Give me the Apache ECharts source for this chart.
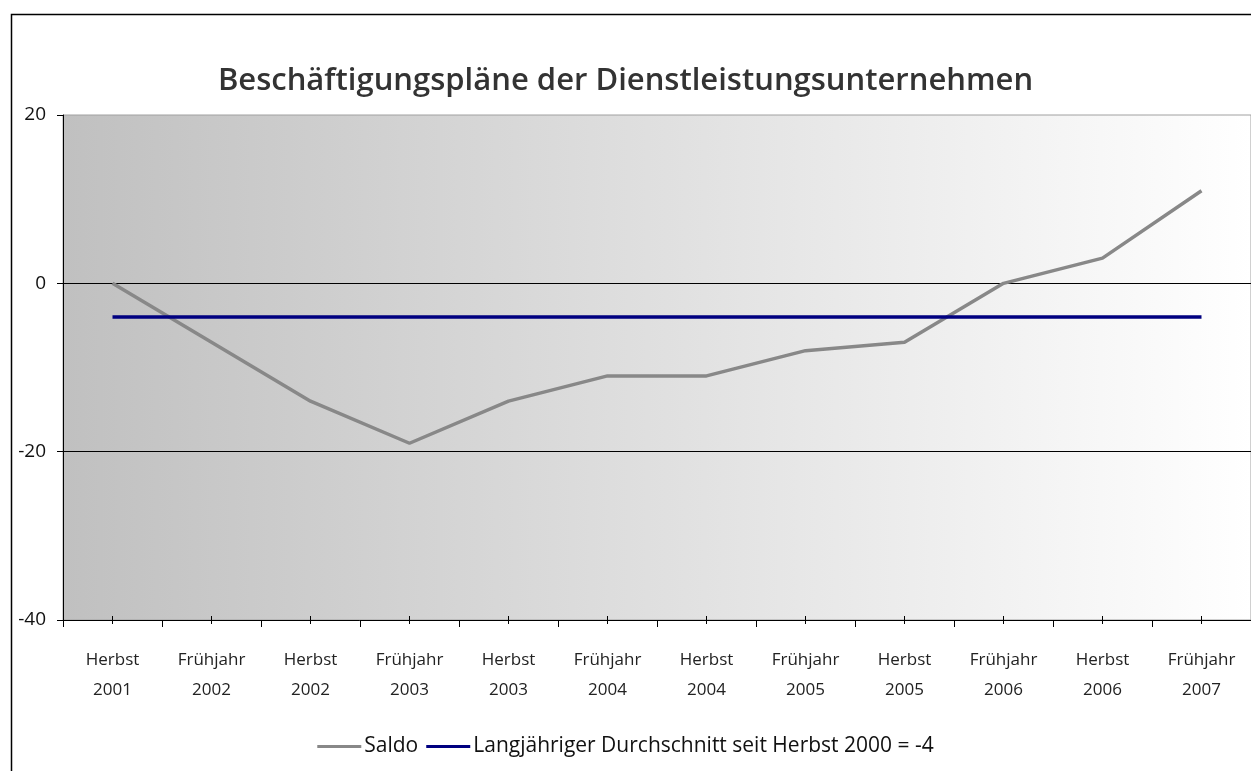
<!DOCTYPE html>
<html>
<head>
<meta charset="utf-8">
<title>Beschäftigungspläne der Dienstleistungsunternehmen</title>
<script src="https://cdn.jsdelivr.net/npm/echarts@6/dist/echarts.min.js"></script>
<style>
  html, body { margin: 0; padding: 0; background: #ffffff; }
  #chart { width: 1251px; height: 771px; }
</style>
</head>
<body>
<div id="chart"></div>
<script>
// Survey periods (season + year)
const categories = [
  'Herbst\n2001', 'Frühjahr\n2002', 'Herbst\n2002', 'Frühjahr\n2003',
  'Herbst\n2003', 'Frühjahr\n2004', 'Herbst\n2004', 'Frühjahr\n2005',
  'Herbst\n2005', 'Frühjahr\n2006', 'Herbst\n2006', 'Frühjahr\n2007'
];
// Balance of planned hiring vs. job cuts
const saldo = [0, -7, -14, -19, -14, -11, -11, -8, -7, 0, 3, 11];
// Long-run average since autumn 2000
const durchschnitt = [-4, -4, -4, -4, -4, -4, -4, -4, -4, -4, -4, -4];
// Value-axis ticks
const yTicks = { min: -40, max: 20, interval: 20 };

const seriesNames = ['Saldo', 'Langjähriger Durchschnitt seit Herbst 2000 = -4'];
const fontFamily = '"Open Sans", "DejaVu Sans", sans-serif';

const chart = echarts.init(document.getElementById('chart'), null, { renderer: 'canvas' });

chart.setOption({
  animation: false,
  backgroundColor: '#ffffff',
  textStyle: { fontFamily: fontFamily },
  title: {
    text: 'Beschäftigungspläne der Dienstleistungsunternehmen',
    left: 'center',
    top: 61,
    textStyle: { fontSize: 31, fontWeight: 600, color: '#333333', fontFamily: fontFamily }
  },
  graphic: [{
    type: 'rect',
    silent: true,
    z: -1,
    shape: { x: 11.5, y: 14.5, width: 1400, height: 900 },
    style: { fill: 'none', stroke: '#000000', lineWidth: 1.5 }
  }],
  legend: {
    bottom: 9,
    left: 'center',
    itemWidth: 44,
    itemHeight: 3,
    itemGap: 8,
    icon: 'rect',
    textStyle: { fontSize: 21, color: '#111111', fontFamily: fontFamily, padding: [0, 0, 0, -2] },
    data: seriesNames
  },
  grid: {
    left: 63,
    top: 115,
    width: 1195,
    height: 505,
    show: true,
    borderColor: '#a0a0a0',
    borderWidth: 1,
    backgroundColor: new echarts.graphic.LinearGradient(0, 0, 1, 0, [
      { offset: 0, color: '#c0c0c0' },
      { offset: 1, color: '#ffffff' }
    ])
  },
  xAxis: [{
    type: 'category',
    data: categories,
    boundaryGap: true,
    axisLine: { show: true, onZero: false, lineStyle: { color: '#000000', width: 1 } },
    axisTick: { show: true, length: 7, lineStyle: { color: '#000000' } },
    axisLabel: {
      interval: 0,
      margin: 25,
      fontSize: 17,
      lineHeight: 30,
      color: '#222222',
      fontFamily: fontFamily
    },
    splitLine: { show: false }
  }, {
    // centre tick marks that cross the axis line
    type: 'category',
    data: categories,
    position: 'bottom',
    offset: -4,
    axisLine: { show: false, onZero: false },
    axisTick: { show: true, alignWithLabel: true, interval: 0, length: 8, lineStyle: { color: '#000000' } },
    axisLabel: { show: false },
    splitLine: { show: false }
  }],
  yAxis: {
    type: 'value',
    min: yTicks.min,
    max: yTicks.max,
    interval: yTicks.interval,
    axisLine: { show: true, lineStyle: { color: '#000000', width: 1 } },
    axisTick: { show: true, length: 6, lineStyle: { color: '#000000' } },
    axisLabel: { fontSize: 19, color: '#111111', margin: 17, fontFamily: fontFamily },
    splitLine: {
      show: true,
      lineStyle: { color: '#000000', width: 1 },
      showMinLine: false,
      showMaxLine: false
    }
  },
  series: [{
    name: seriesNames[0],
    type: 'line',
    data: saldo,
    showSymbol: false,
    symbol: 'none',
    color: '#888888',
    lineStyle: { color: '#888888', width: 3.5 },
    z: 3
  }, {
    name: seriesNames[1],
    type: 'line',
    data: durchschnitt,
    showSymbol: false,
    symbol: 'none',
    color: '#000080',
    lineStyle: { color: '#000080', width: 3.5 },
    z: 4
  }]
});
</script>
</body>
</html>
